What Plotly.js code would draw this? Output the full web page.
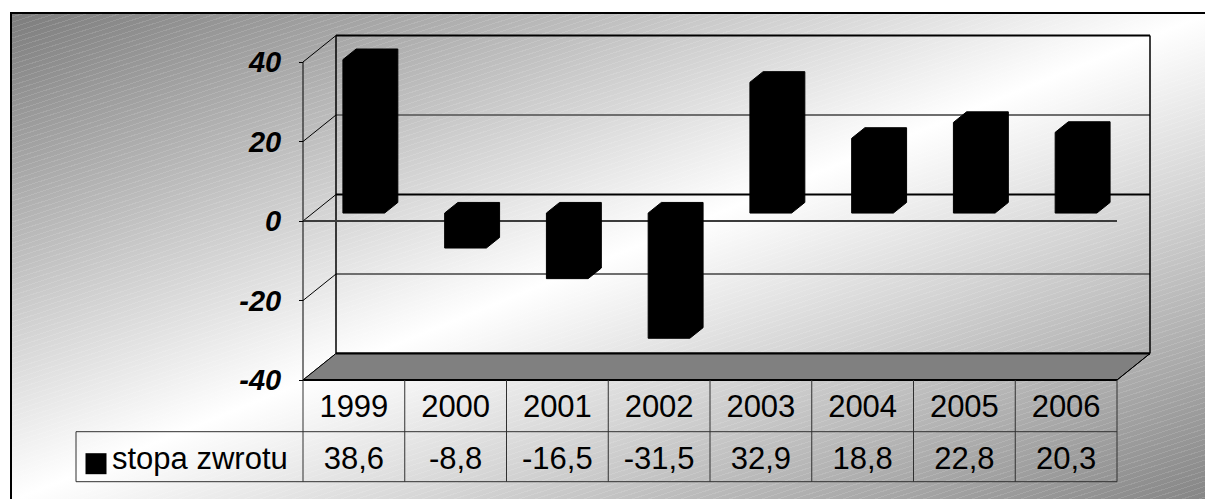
<!DOCTYPE html>
<html>
<head>
<meta charset="utf-8">
<script src="https://cdn.plot.ly/plotly-3.0.1.min.js"></script>
<style>
  html, body { margin: 0; padding: 0; width: 1205px; height: 499px; overflow: hidden; background: #ffffff; }
  #bg {
    position: absolute; left: 10px; top: 12px; width: 1195px; height: 487px;
    border-top: 2px solid #000; border-left: 2px solid #000;
    background:
      repeating-linear-gradient(-18deg, rgba(255,255,255,0) 0px, rgba(255,255,255,0) 4px, rgba(255,255,255,0.12) 4px, rgba(255,255,255,0.12) 5px),
      linear-gradient(to bottom right, #7d7d7d 0%, #ffffff 50%, #858585 100%);
  }
  #chart { position: absolute; left: 0; top: 0; width: 1205px; height: 499px; }
</style>
</head>
<body>
<div id="bg"></div>
<div id="chart"></div>
<script>
// ---- data ----
const years = ['1999', '2000', '2001', '2002', '2003', '2004', '2005', '2006'];
const returns = [38.6, -8.8, -16.5, -31.5, 32.9, 18.8, 22.8, 20.3];
const seriesName = 'stopa zwrotu';
const tickVals = [-40, -20, 0, 20, 40];
const tickText = ['-40', '-20', '0', '20', '40'];

// ---- geometry of the oblique 3-D view ----
const W = 1205, H = 499;
const X0 = 303;        // pixel x of the front-left corner of the category axis
const CAT = 101.75;    // pixels per category
const Y0 = 221;        // pixel y of value 0 on the front plane
const K = 3.975;       // pixels per value unit
const DX = 33 / CAT;   // full depth shift, in category units
const DY = 26.5 / K;   // full depth shift, in value units
const BAR_W = 0.41, F1 = 0.3, F2 = 0.7;   // bar width and front/back depth fractions
const VMIN = tickVals[0], VMAX = tickVals[tickVals.length - 1];
const N = years.length;

const px2x = p => (p - X0) / CAT;
const px2y = p => (Y0 - p) / K;
const proj = (x, v, d) => [x + d * DX, v + d * DY];

const FONT = '"Liberation Sans", Arial, Helvetica, sans-serif';
const traces = [];

function poly(pts, opts) {
  traces.push(Object.assign({
    type: 'scatter', mode: 'lines',
    x: pts.map(p => p[0]), y: pts.map(p => p[1]),
    hoverinfo: 'skip', showlegend: false
  }, opts));
}
function seg(a, b, color, width) {
  poly([a, b], { line: { color: color, width: width } });
}

// left side wall: lines from each tick into the depth
tickVals.forEach(v => seg(proj(0, v, 0), proj(0, v, 1), '#000', 1));
// back wall gridlines
tickVals.forEach(v => {
  const strong = (v === 0 || v === VMAX || v === VMIN);
  seg(proj(0, v, 1), proj(N, v, 1), strong ? '#000' : '#6e6e6e', 2);
});
// back wall edges
seg(proj(0, VMIN, 1), proj(0, VMAX, 1), '#000', 1.5);
seg(proj(N, VMIN, 1), proj(N, VMAX, 1), '#000', 1.5);

// floor
poly([proj(0, VMIN, 0), proj(N, VMIN, 0), proj(N, VMIN, 1), proj(0, VMIN, 1), proj(0, VMIN, 0)],
  { fill: 'toself', fillcolor: '#808080', line: { color: '#000', width: 1 } });
seg(proj(0, VMIN, 1), proj(N, VMIN, 1), '#000', 2);

// category axis drawn at value 0 on the front plane
seg(proj(0, 0, 0), proj(N, 0, 0), '#3c3c3c', 2);

// columns
returns.forEach((v, i) => {
  const xl = i + (1 - BAR_W) / 2, xr = xl + BAR_W;
  const lo = Math.min(0, v), hi = Math.max(0, v);
  poly([proj(xl, lo, F1), proj(xr, lo, F1), proj(xr, lo, F2), proj(xr, hi, F2),
        proj(xl, hi, F2), proj(xl, hi, F1), proj(xl, lo, F1)],
    { fill: 'toself', fillcolor: '#000', line: { color: '#000', width: 1 } });
});

// front value axis line (ticks and labels come from yaxis2)
poly([[0, VMIN], [0, VMAX]], { line: { color: '#000', width: 1 }, yaxis: 'y2' });

// data table
const rowTop = VMIN, rowMid = px2y(431.7), rowBot = px2y(481.7);
const legendLeft = px2x(76);
seg(proj(0, VMIN, 0), proj(N, VMIN, 0), '#000', 2);
seg([legendLeft, rowMid], [N, rowMid], '#303030', 1);
seg([legendLeft, rowBot], [N, rowBot], '#303030', 1);
seg([legendLeft, rowMid], [legendLeft, rowBot], '#303030', 1);
for (let i = 0; i <= N; i++) seg([i, rowTop], [i, rowBot], '#303030', 1);
seg(proj(N, VMIN, 0), proj(N, VMIN, 1), '#000', 1);

const yearRowY = (rowTop + rowMid) / 2 - 3 / K;
const valueRowY = (rowMid + rowBot) / 2 - 5 / K;
const tableFont = { family: FONT, size: 31, color: '#000' };

traces.push({
  type: 'scatter', mode: 'text', hoverinfo: 'skip', showlegend: false,
  x: years.map((_, i) => i + 0.5), y: years.map(() => yearRowY),
  text: years, textposition: 'middle center', textfont: tableFont
});
traces.push({
  type: 'scatter', mode: 'text', hoverinfo: 'skip', showlegend: false,
  x: returns.map((_, i) => i + 0.5), y: returns.map(() => valueRowY),
  text: returns.map(v => v.toFixed(1).replace('.', ',')), textposition: 'middle center',
  textfont: tableFont
});
// legend key inside the table
traces.push({
  type: 'scatter', mode: 'markers', hoverinfo: 'skip', showlegend: false,
  x: [px2x(96)], y: [(rowMid + rowBot) / 2 - 7 / K],
  marker: { symbol: 'square', size: 21, color: '#000' }
});
traces.push({
  type: 'scatter', mode: 'text', hoverinfo: 'skip', showlegend: false,
  x: [px2x(112)], y: [valueRowY],
  text: [seriesName], textposition: 'middle right', textfont: tableFont
});

const xr = [px2x(0), px2x(W)], yr = [px2y(H), px2y(0)];
const layout = {
  width: W, height: H,
  margin: { l: 0, r: 0, t: 0, b: 0, pad: 0 },
  paper_bgcolor: 'rgba(0,0,0,0)', plot_bgcolor: 'rgba(0,0,0,0)',
  showlegend: false,
  xaxis: { range: xr, visible: false, fixedrange: true },
  yaxis: { range: yr, visible: false, fixedrange: true },
  yaxis2: {
    range: yr, overlaying: 'y', anchor: 'free', position: X0 / W, side: 'left',
    tickmode: 'array', tickvals: tickVals, ticktext: tickText,
    ticks: 'outside', ticklen: 4, tickwidth: 1, tickcolor: '#000',
    ticklabelstandoff: 12,
    showline: false, showgrid: false, zeroline: false, automargin: false, fixedrange: true,
    tickfont: { family: FONT, size: 29, color: '#000', weight: 'bold', style: 'italic' }
  }
};

Plotly.newPlot('chart', traces, layout, { displayModeBar: false, staticPlot: true });
</script>
</body>
</html>
